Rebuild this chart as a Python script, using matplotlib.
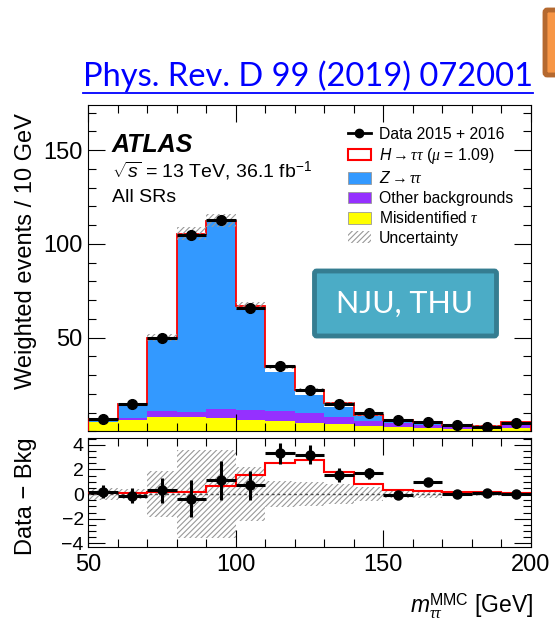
import numpy as np
import matplotlib
matplotlib.use("Agg")
import matplotlib.pyplot as plt
from matplotlib.lines import Line2D
from matplotlib.patches import Patch, FancyBboxPatch
from matplotlib.ticker import MultipleLocator

plt.rcParams['font.family'] = ['Liberation Sans', 'DejaVu Sans']
plt.rcParams['mathtext.fontset'] = 'custom'
plt.rcParams['mathtext.rm'] = 'Liberation Sans'
plt.rcParams['mathtext.it'] = 'Liberation Serif:italic'
plt.rcParams['mathtext.sf'] = 'Liberation Sans:italic'
plt.rcParams['mathtext.bf'] = 'Liberation Sans:bold'
plt.rcParams['hatch.linewidth'] = 0.8

# binning (GeV)
edges = np.arange(50, 201, 10)
centers = edges[:-1] + 5

# stacked predictions (weighted events / 10 GeV)
fake_tau = [4.9, 6.0, 7.9, 7.5, 7.2, 6.3, 5.7, 4.4, 3.8, 3.1, 2.6, 1.7, 1.2, 1.2, 2.0]
other_bkg = [0.4, 1.0, 3.0, 3.0, 4.8, 5.1, 5.2, 5.2, 4.1, 2.5, 1.8, 1.8, 1.4, 1.0, 1.8]
z_tautau = [1.4, 7.6, 38.8, 94.7, 99.7, 53.9, 20.8, 9.7, 5.3, 2.6, 1.2, 1.2, 0.9, 0.7, 0.9]
h_tautau = [0.05, 0.1, 0.2, 0.2, 0.65, 1.55, 2.55, 2.75, 1.75, 0.85, 0.3, 0.25, 0.2, 0.15, 0.1]
syst_unc = [0.5, 0.4, 1.85, 3.6, 3.6, 2.2, 1.05, 1.0, 0.8, 0.6, 0.3, 0.3, 0.2, 0.2, 0.2]

# data
data = [6.9, 14.5, 50.0, 104.8, 112.8, 66.0, 35.0, 21.9, 14.6, 9.7, 6.0, 5.1, 3.4, 2.4, 4.7]
data_err = [0.5, 0.6, 1.0, 1.5, 1.55, 1.2, 0.87, 0.8, 0.6, 0.45, 0.3, 0.3, 0.25, 0.25, 0.25]
data_minus_bkg = [0.2, -0.15, 0.3, -0.4, 1.1, 0.7, 3.3, 3.2, 1.55, 1.7, -0.1, 1.0, 0.0, 0.1, 0.0]

c_yellow = '#ffff00'
c_purple = '#9530ff'
c_blue = '#3399ff'
c_hatch = '#999999'

fig = plt.figure(figsize=(5.55, 6.24), dpi=100)
ax = fig.add_axes([0.1586, 0.3085, 0.7982, 0.5232])
rax = fig.add_axes([0.1586, 0.1234, 0.7982, 0.1747])

widths = np.diff(edges)
b1 = np.array(fake_tau)
b2 = b1 + np.array(other_bkg)
b3 = b2 + np.array(z_tautau)
tot = b3 + np.array(h_tautau)
unc = np.array(syst_unc)

ax.bar(centers, fake_tau, width=widths, color=c_yellow, edgecolor='none')
ax.bar(centers, other_bkg, width=widths, bottom=b1, color=c_purple, edgecolor='none')
ax.bar(centers, z_tautau, width=widths, bottom=b2, color=c_blue, edgecolor='none')
ax.bar(centers, h_tautau, width=widths, bottom=b3, color='white', edgecolor='none')
ax.stairs(tot, edges, color='red', lw=1.3, baseline=0, zorder=3)
ax.bar(centers, 2 * unc, width=widths, bottom=tot - unc,
       facecolor='none', edgecolor=c_hatch, hatch='//////', lw=0, zorder=4)
ax.errorbar(centers, data, xerr=5, yerr=data_err, fmt='o', color='black',
            ms=7, elinewidth=2.2, capsize=0, zorder=5)

ax.set_xlim(50, 200)
ax.set_ylim(0, 174)
ax.xaxis.set_major_locator(MultipleLocator(50))
ax.xaxis.set_minor_locator(MultipleLocator(10))
ax.yaxis.set_minor_locator(MultipleLocator(10))
ax.set_yticks([50, 100, 150])
ax.tick_params(which='both', direction='in', top=True, right=True, labelbottom=False)
ax.tick_params(which='major', length=12, width=0.8, labelsize=17, pad=4)
ax.tick_params(which='minor', length=6, width=0.8)
ax.set_ylabel('Weighted events / 10 GeV', fontsize=17)
ax.yaxis.set_label_coords(-0.115, 0.553)

# ratio panel
rax.bar(centers, 2 * unc, width=widths, bottom=-unc, facecolor='none',
        edgecolor=c_hatch, hatch='//////', lw=0, zorder=1)
rax.axhline(0, color='0.3', lw=1, ls=(0, (2, 2)), zorder=2)
rax.stairs(h_tautau, edges, color='red', lw=1.5, baseline=None, zorder=3)
rax.errorbar(centers, data_minus_bkg, xerr=5, yerr=data_err, fmt='o', color='black',
             ms=6.5, elinewidth=2.2, capsize=0, zorder=5)
rax.set_xlim(50, 200)
rax.set_ylim(-4.3, 4.55)
rax.xaxis.set_major_locator(MultipleLocator(50))
rax.xaxis.set_minor_locator(MultipleLocator(10))
rax.set_yticks([-4, -2, 0, 2, 4])
rax.yaxis.set_minor_locator(MultipleLocator(0.5))
rax.tick_params(which='both', direction='in', top=True, right=True)
rax.tick_params(which='major', length=12, width=0.8, pad=4)
rax.tick_params(which='minor', length=6, width=0.8)
rax.tick_params(axis='x', labelsize=17, pad=5)
rax.tick_params(axis='y', labelsize=14, pad=3)
rax.set_ylabel('Data \u2212 Bkg', fontsize=17)
rax.yaxis.set_label_coords(-0.115, 0.468)
rax.set_xlabel(r'$\mathsf{m}_{\tau\tau}^{\rm MMC}$ [GeV]', fontsize=16.5, ha='right')
rax.xaxis.set_label_coords(1.004, -0.41)

for a in (ax, rax):
    for s in a.spines.values():
        s.set_linewidth(0.8)

# labels
fig.text(0.2018, 0.7564, 'ATLAS', fontsize=18, fontweight='bold', style='italic')
fig.text(0.2018, 0.7163, r'$\sqrt{\mathsf{s}}$ = 13 TeV, 36.1 fb$^{-1}$', fontsize=14)
fig.text(0.2018, 0.6763, 'All SRs', fontsize=14)

handles = [
    Line2D([], [], color='black', marker='o', lw=2, ms=6),
    Patch(facecolor='white', edgecolor='red', lw=1.5),
    Patch(facecolor=c_blue, edgecolor='0.6', lw=0.6),
    Patch(facecolor=c_purple, edgecolor='0.6', lw=0.6),
    Patch(facecolor=c_yellow, edgecolor='0.6', lw=0.6),
    Patch(facecolor='none', edgecolor=c_hatch, hatch='//////', lw=0),
]
labels = [
    'Data 2015 + 2016',
    r'$\mathsf{H} \rightarrow \tau\tau$ ($\mu$ = 1.09)',
    r'$\mathsf{Z} \rightarrow \tau\tau$',
    'Other backgrounds',
    r'Misidentified $\tau$',
    'Uncertainty',
]
fig.legend(handles, labels, loc='upper left', bbox_to_anchor=(0.627, 0.797),
           frameon=False, fontsize=11.3, handlelength=1.45, handleheight=0.75,
           handletextpad=0.5, labelspacing=0.28, borderpad=0, borderaxespad=0)

# slide decorations
title = fig.text(308 / 555, 1 - 86 / 624, 'Phys. Rev. D 99 (2019) 072001', fontsize=23.5,
                 family=['Lato', 'DejaVu Sans'], color='#0000ff', ha='center', va='baseline')
fig.canvas.draw()
bb = title.get_window_extent().transformed(fig.transFigure.inverted())
fig.add_artist(Line2D([bb.x0, bb.x1], [1 - 93 / 624] * 2, color='#0000ff', lw=1.3,
                      transform=fig.transFigure))

fig.add_artist(FancyBboxPatch((314.5 / 555, 1 - 336 / 624), 182 / 555, 65 / 624,
                              boxstyle='round,pad=0,rounding_size=0.004',
                              facecolor='#4bacc6', edgecolor='#357d91', lw=3.5,
                              transform=fig.transFigure))
fig.text(405 / 555, 1 - 304 / 624, 'NJU, THU', fontsize=22, color='white',
         family=['Lato', 'DejaVu Sans'], ha='center', va='center')

fig.add_artist(FancyBboxPatch((545 / 555, 1 - 75 / 624), 30 / 555, 65 / 624,
                              boxstyle='round,pad=0,rounding_size=0.004',
                              facecolor='#f79646', edgecolor='#b5692f', lw=3.5,
                              transform=fig.transFigure, clip_on=False))

fig.savefig('out.png', dpi=100)
